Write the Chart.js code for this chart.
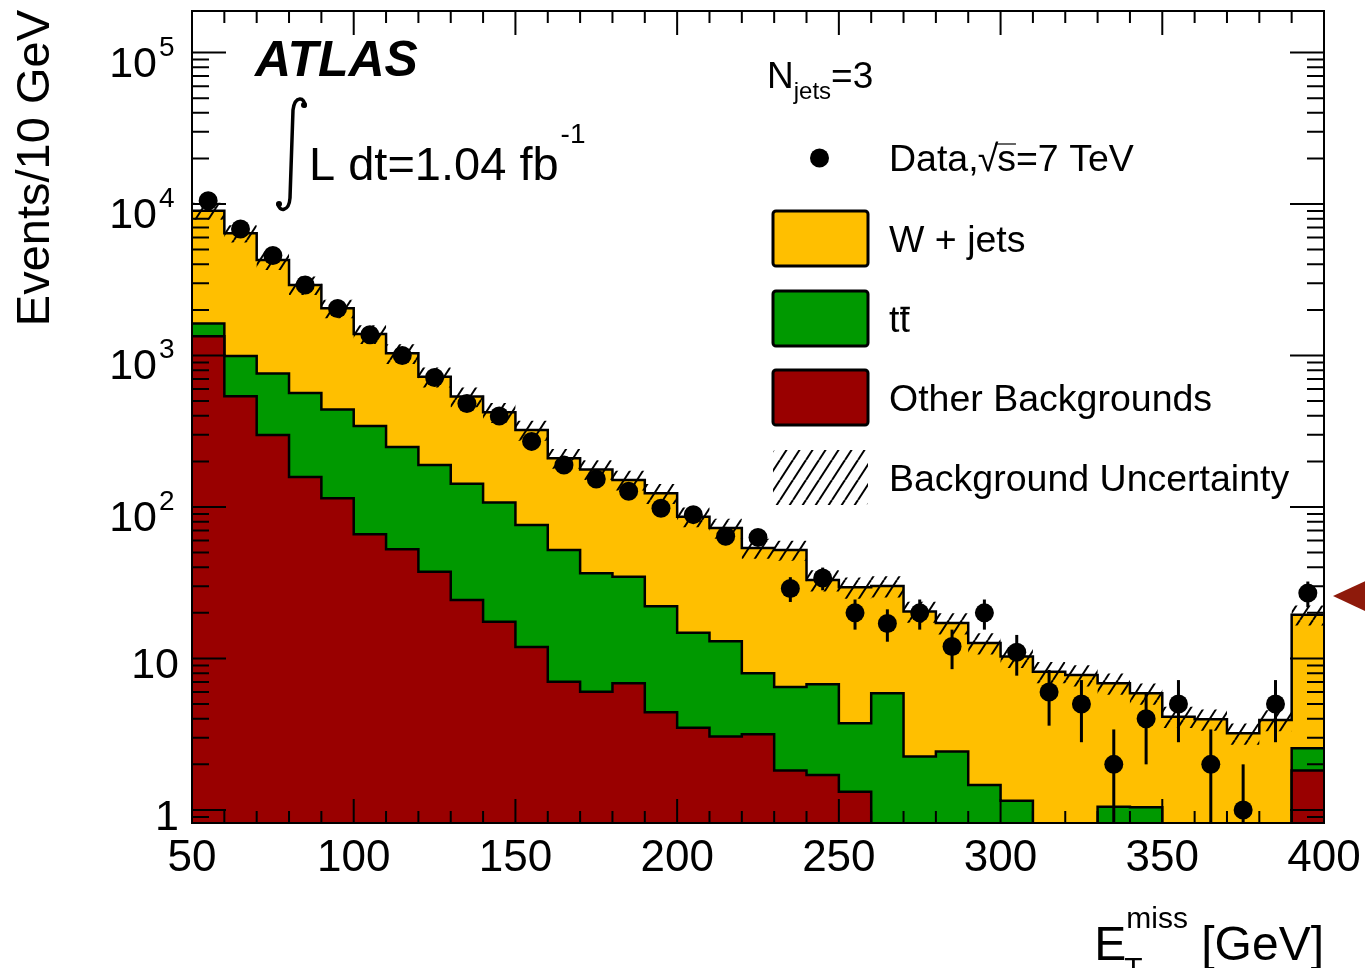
<!DOCTYPE html>
<html>
<head>
<meta charset="utf-8">
<title>Missing transverse energy, N_jets = 3</title>
<script src="https://cdn.jsdelivr.net/npm/chart.js@4.4.1/dist/chart.umd.min.js"></script>
<style>
  html, body { margin: 0; padding: 0; background: #fff; }
  canvas { display: block; }
</style>
</head>
<body>
<canvas id="chart" width="1365" height="968"></canvas>
<script>
// 10 GeV bins of missing transverse energy, last bin includes overflow
const binEdges = [50, 60, 70, 80, 90, 100, 110, 120, 130, 140, 150, 160, 170, 180, 190, 200,
  210, 220, 230, 240, 250, 260, 270, 280, 290, 300, 310, 320, 330, 340, 350, 360, 370, 380, 390, 400];

// expected events per bin for each background
const wjets = [7410, 5417, 3507, 2352, 1608, 1044, 785, 535, 393, 315, 246, 158, 140.5, 116.3, 101,
  71.5, 59.7, 45.6, 45.5, 26.2, 25.8, 24.2, 18.2, 14.7, 11.2, 9.15, 8.18, 7.78, 5.81, 4.85,
  4.13, 3.97, 3.21, 3.93, 16.9];
const ttbar = [287, 455, 462, 408, 326, 277, 196, 152, 118, 89.5, 64.2, 45, 30.5, 27.8, 17.7,
  11.3, 9.95, 4.82, 4.67, 5.06, 2.41, 5.89, 2.25, 2.43, 1.46, 1.15, 0, 0, 1.05, 1.04,
  0, 0, 0, 0, 0.73];
const otherBkg = [1339, 538, 299, 158, 114, 66, 52.6, 37.4, 24.3, 17.5, 11.9, 7.03, 6.04, 6.86, 4.41,
  3.49, 3.05, 3.16, 1.82, 1.70, 1.32, 0, 0, 0, 0, 0, 0, 0, 0, 0,
  0, 0, 0, 0, 1.82];

// relative background uncertainty per bin
const bkgUncFrac = [0.13, 0.13, 0.14, 0.14, 0.14, 0.14, 0.15, 0.15, 0.15, 0.15, 0.15, 0.15, 0.15, 0.15, 0.15,
  0.15, 0.15, 0.15, 0.15, 0.16, 0.16, 0.16, 0.16, 0.16, 0.16, 0.16, 0.16, 0.16, 0.16, 0.16,
  0.16, 0.16, 0.16, 0.16, 0.15];

// observed events and their statistical errors
const dataCounts = [10500, 6840, 4570, 2920, 2040, 1370, 1000, 716, 482, 399, 271, 189, 153, 127, 98,
  89, 64, 63, 29, 34, 20, 17, 20, 12, 20, 11, 6, 5, 2, 4, 5, 2, 1, 5, 27];
const dataErr = [102, 83, 68, 54, 45, 37, 32, 27, 22, 20, 16.5, 13.7, 12.4, 11.3, 9.9,
  9.4, 8, 7.9, 5.4, 5.8, 4.5, 4.1, 4.5, 3.5, 4.5, 3.3, 2.4, 2.2, 1.4, 2, 2.2, 1.4, 1, 2.2, 5.2];

const xTicks = [50, 100, 150, 200, 250, 300, 350, 400];
const yTicks = [1, 10, 100, 1000, 10000, 100000];

const FONT = '"Liberation Sans", Arial, Helvetica, sans-serif';
const Y_MIN = 0.82;
const Y_MAX = 1.88e5;
const FLOOR = 0.5;   // empty bins sit below the axis

const YELLOW = '#ffbf00';
const GREEN = '#009900';
const RED = '#990000';

const stackOther = otherBkg.slice();
const stackTop = otherBkg.map((v, i) => v + ttbar[i]);
const stackTotal = stackTop.map((v, i) => v + wjets[i]);
const bandHi = stackTotal.map((v, i) => v * (1 + bkgUncFrac[i]));
const bandLo = stackTotal.map((v, i) => v * (1 - bkgUncFrac[i]));
const binCenters = dataCounts.map((_, i) => (binEdges[i] + binEdges[i + 1]) / 2);

// point at each lower bin edge, plus the closing edge; drawn with stepped 'before'
function stepPoints(vals) {
  const pts = vals.map((v, i) => ({x: binEdges[i], y: Math.max(v, FLOOR)}));
  pts.push({x: binEdges[binEdges.length - 1], y: Math.max(vals[vals.length - 1], FLOOR)});
  return pts;
}

const canvas = document.getElementById('chart');
const mainCtx = canvas.getContext('2d');

function makeHatch() {
  const w = 13, h = 20;
  const c = document.createElement('canvas');
  c.width = w; c.height = h;
  const g = c.getContext('2d');
  g.strokeStyle = '#000';
  g.lineWidth = 2;
  for (let k = -1; k <= 1; k++) {
    g.beginPath();
    g.moveTo(k * w, h);
    g.lineTo(k * w + w, 0);
    g.stroke();
  }
  return mainCtx.createPattern(c, 'repeat');
}
const hatch = makeHatch();

function histo(vals, color) {
  return {
    data: stepPoints(vals),
    stepped: 'before',
    fill: 'start',
    backgroundColor: color,
    borderColor: '#000',
    borderWidth: 2.5,
    pointRadius: 0,
    tension: 0
  };
}

// draws text pieces of different sizes one after the other, returns end x
function drawScript(ctx, parts, x, y) {
  let cx = x;
  parts.forEach(p => {
    ctx.font = p.size + 'px ' + FONT;
    ctx.fillText(p.t, cx, y + (p.dy || 0));
    cx += ctx.measureText(p.t).width + (p.gap || 0);
  });
  return cx;
}

const atlasDecor = {
  id: 'atlasDecor',
  afterDatasetsDraw(chart) {
    const {ctx, chartArea: a, scales: {x, y}} = chart;
    ctx.save();
    ctx.beginPath();
    ctx.rect(a.left, a.top, a.right - a.left, a.bottom - a.top);
    ctx.clip();
    ctx.strokeStyle = '#000';
    ctx.lineWidth = 3;
    dataCounts.forEach((n, i) => {
      const px = x.getPixelForValue(binCenters[i]);
      const hi = y.getPixelForValue(n + dataErr[i]);
      const lo = n - dataErr[i] > 0 ? y.getPixelForValue(n - dataErr[i]) : a.bottom + 5;
      ctx.beginPath();
      ctx.moveTo(px, hi);
      ctx.lineTo(px, lo);
      ctx.stroke();
    });
    ctx.restore();
  },
  afterDraw(chart) {
    const {ctx, chartArea: a, scales: {x, y}} = chart;
    ctx.save();
    ctx.strokeStyle = '#000';
    ctx.fillStyle = '#000';

    // frame and inward ticks on all four sides
    ctx.lineWidth = 2;
    ctx.strokeRect(a.left, a.top, a.right - a.left, a.bottom - a.top);
    ctx.beginPath();
    binEdges.forEach(v => {
      const px = x.getPixelForValue(v);
      const len = xTicks.includes(v) ? 24 : 12;
      ctx.moveTo(px, a.bottom); ctx.lineTo(px, a.bottom - len);
      ctx.moveTo(px, a.top); ctx.lineTo(px, a.top + len);
    });
    for (let e = -1; e <= 5; e++) {
      for (let k = 1; k <= 9; k++) {
        const v = k * Math.pow(10, e);
        if (v < Y_MIN || v > Y_MAX) continue;
        const py = y.getPixelForValue(v);
        const len = k === 1 ? 34 : 17;
        ctx.moveTo(a.left, py); ctx.lineTo(a.left + len, py);
        ctx.moveTo(a.right, py); ctx.lineTo(a.right - len, py);
      }
    }
    ctx.stroke();

    // tick labels
    ctx.textBaseline = 'alphabetic';
    ctx.textAlign = 'center';
    ctx.font = '44px ' + FONT;
    xTicks.forEach(v => ctx.fillText(String(v), x.getPixelForValue(v), a.bottom + 48));

    yTicks.forEach(v => {
      const py = y.getPixelForValue(v);
      const e = Math.round(Math.log10(v));
      ctx.textAlign = 'right';
      ctx.font = '43px ' + FONT;
      if (e < 2) {
        ctx.fillText(String(v), a.left - 13, py + 20);
      } else {
        ctx.fillText('10', a.left - 35, py + 24);
        ctx.font = '28px ' + FONT;
        ctx.textAlign = 'left';
        ctx.fillText(String(e), a.left - 33, py + 3);
      }
    });

    // axis titles
    ctx.save();
    ctx.translate(49, a.top - 1);
    ctx.rotate(-Math.PI / 2);
    ctx.textAlign = 'right';
    ctx.font = '47px ' + FONT;
    ctx.fillText('Events/10 GeV', 0, 0);
    ctx.restore();

    ctx.textAlign = 'left';
    ctx.font = '48px ' + FONT;
    const wE = ctx.measureText('E').width;
    const wTail = ctx.measureText(' [GeV]').width;
    ctx.font = '30px ' + FONT;
    const wMiss = ctx.measureText('miss').width;
    const tx = a.right - (wE + wMiss + wTail);
    ctx.font = '48px ' + FONT;
    ctx.fillText('E', tx, 960);
    ctx.font = '30px ' + FONT;
    ctx.fillText('T', tx + wE - 2, 978);
    ctx.fillText('miss', tx + wE, 928);
    ctx.font = '48px ' + FONT;
    ctx.fillText(' [GeV]', tx + wE + wMiss, 960);

    // experiment label and luminosity
    ctx.font = 'italic bold 50px ' + FONT;
    ctx.fillText('ATLAS', 255, 76);

    ctx.lineWidth = 3.5;
    ctx.lineCap = 'round';
    ctx.beginPath();
    ctx.moveTo(305, 106);
    ctx.bezierCurveTo(305, 97, 295, 95, 293, 110);
    ctx.lineTo(290, 198);
    ctx.bezierCurveTo(289, 212, 279, 212, 278, 204);
    ctx.stroke();
    ctx.beginPath(); ctx.arc(304, 105, 3, 0, Math.PI * 2); ctx.fill();
    ctx.beginPath(); ctx.arc(279, 204, 3, 0, Math.PI * 2); ctx.fill();
    ctx.lineCap = 'butt';
    drawScript(ctx, [
      {t: 'L dt=1.04 fb', size: 47, gap: 2},
      {t: '-1', size: 28, dy: -37}
    ], 309, 180);

    // legend
    drawScript(ctx, [
      {t: 'N', size: 37},
      {t: 'jets', size: 24, dy: 11},
      {t: '=3', size: 37}
    ], 767, 88);

    const lx = 773, lw = 95, lh = 55, tx0 = 889;
    ctx.beginPath();
    ctx.arc(lx + lw / 2 - 1, 158, 9.5, 0, Math.PI * 2);
    ctx.fill();
    ctx.font = '37.5px ' + FONT;
    const dPre = 'Data,';
    ctx.fillText(dPre, tx0, 171);
    let sx = tx0 + ctx.measureText(dPre).width;
    ctx.fillText('\u221A', sx - 1, 171);
    sx += ctx.measureText('\u221A').width - 2;
    ctx.fillText('s=7 TeV', sx, 171);
    const sw = ctx.measureText('s').width;
    ctx.lineWidth = 1.2;
    ctx.beginPath();
    ctx.moveTo(sx - 2, 144); ctx.lineTo(sx + sw, 144);
    ctx.stroke();

    const rows = [
      {fill: YELLOW, top: 211, label: 'W + jets'},
      {fill: GREEN, top: 291, label: 'tt'},
      {fill: RED, top: 370, label: 'Other Backgrounds'},
      {fill: hatch, top: 450, label: 'Background Uncertainty', noBorder: true}
    ];
    rows.forEach(r => {
      ctx.fillStyle = r.fill;
      ctx.beginPath();
      ctx.roundRect(lx, r.top, lw, lh, 3);
      ctx.fill();
      if (!r.noBorder) {
        ctx.lineWidth = 3;
        ctx.strokeStyle = '#000';
        ctx.stroke();
      }
      ctx.fillStyle = '#000';
      ctx.font = '37.5px ' + FONT;
      ctx.fillText(r.label, tx0, r.top + lh / 2 + 13);
      if (r.label === 'tt') {
        const w1 = ctx.measureText('t').width;
        ctx.lineWidth = 2.5;
        ctx.beginPath();
        ctx.moveTo(tx0 + w1 + 1, r.top + 17);
        ctx.lineTo(tx0 + 2 * w1, r.top + 17);
        ctx.stroke();
      }
    });

    // marker pointing at the overflow bin
    const ay = y.getPixelForValue(dataCounts[dataCounts.length - 1]) + 3;
    ctx.fillStyle = '#8e1a0b';
    ctx.beginPath();
    ctx.moveTo(a.right + 9, ay);
    ctx.lineTo(a.right + 50, ay - 19);
    ctx.lineTo(a.right + 50, ay + 19);
    ctx.closePath();
    ctx.fill();

    ctx.restore();
  }
};

new Chart(mainCtx, {
  type: 'line',
  data: {
    datasets: [
      {
        data: dataCounts.map((v, i) => ({x: binCenters[i], y: v})),
        showLine: false,
        pointRadius: 9.5,
        pointStyle: 'circle',
        pointBackgroundColor: '#000',
        pointBorderWidth: 0,
        borderColor: '#000'
      },
      histo(stackOther, RED),
      histo(stackTop, GREEN),
      {
        data: stepPoints(bandHi),
        stepped: 'before',
        fill: '+1',
        backgroundColor: hatch,
        borderColor: 'transparent',
        borderWidth: 0,
        pointRadius: 0
      },
      {
        data: stepPoints(bandLo),
        stepped: 'before',
        fill: false,
        borderColor: 'transparent',
        borderWidth: 0,
        pointRadius: 0
      },
      histo(stackTotal, YELLOW)
    ]
  },
  options: {
    responsive: false,
    animation: false,
    events: [],
    layout: {padding: {left: 192, right: 41, top: 11, bottom: 145}},
    scales: {
      x: {type: 'linear', min: 50, max: 400, display: false},
      y: {type: 'logarithmic', min: Y_MIN, max: Y_MAX, display: false, bounds: 'data'}
    },
    plugins: {
      legend: {display: false},
      tooltip: {enabled: false}
    }
  },
  plugins: [atlasDecor]
});
</script>
</body>
</html>
